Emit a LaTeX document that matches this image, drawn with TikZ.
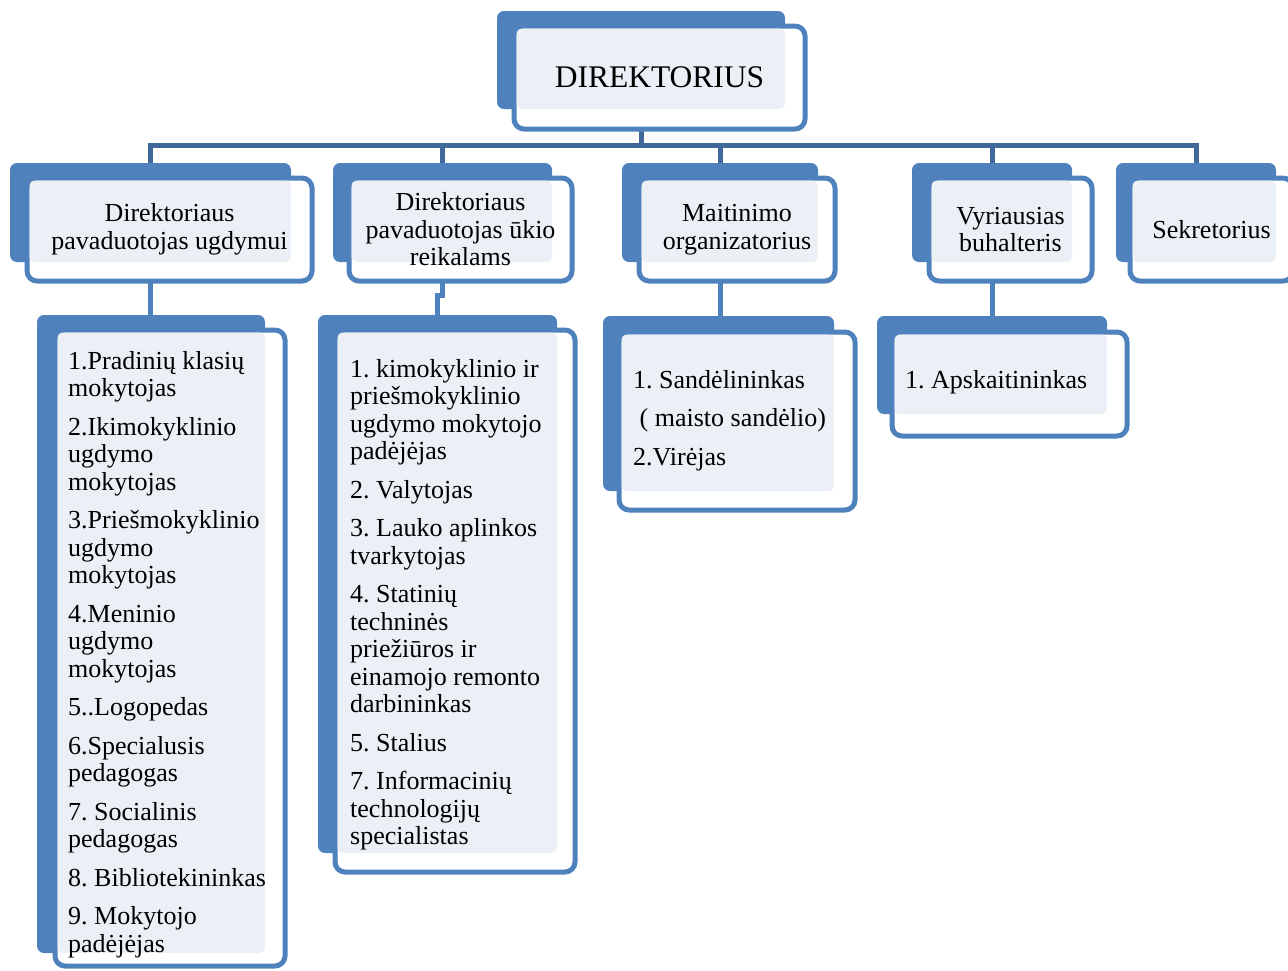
\documentclass[tikz,border=0pt]{standalone}
\usepackage{fontspec}
\setmainfont{Liberation Serif}
\frenchspacing
\usetikzlibrary{fit,calc,backgrounds}
\definecolor{boxblue}{HTML}{4F81BD}
\definecolor{busblue}{HTML}{41689B}
\definecolor{panelgray}{HTML}{EBF0F7}

\begin{document}
\begin{tikzpicture}[x=1pt, y=-1pt,
    backbox/.style = {fill=boxblue, rounded corners=7pt, inner sep=0pt, outer sep=0pt},
    framebox/.style = {draw=boxblue, line width=5pt, fill=white, rounded corners=10pt, inner sep=0pt, outer sep=0pt},
    panel/.style = {fill=panelgray, rounded corners=5pt},
    headtext/.style = {align=center, inner sep=0pt, font=\fontsize{26}{27.5}\selectfont},
    listtext/.style = {align=left, anchor=north west, inner sep=0pt, font=\fontsize{26}{27.5}\selectfont},
    link/.style = {draw=boxblue, line width=5pt},
    buslink/.style = {draw=busblue, line width=5pt}]
    \useasboundingbox (0,0) rectangle (1288,970);
    \coordinate (bus) at (0,145);

    % director
    \node[backbox, fit={(497,11) (785,109)}] (dirB) {};
    \node[framebox, fit={(514,26) (805,129)}] (dirF) {};
    \fill[panel] ($(dirF.north west)+(2.5,2.5)$) rectangle (dirB.south east);
    \node[headtext, font=\fontsize{31.5}{34}\selectfont] (dir) at (dirF.center) {DIREKTORIUS};

    % second row
    \node[backbox, fit={(10,163) (291,262)}] (ugdB) {};
    \node[framebox, fit={(27,178) (312,281)}] (ugdF) {};
    \fill[panel] ($(ugdF.north west)+(2.5,2.5)$) rectangle (ugdB.south east);
    \node[headtext] (ugd) at (ugdF.center) {Direktoriaus\\pavaduotojas ugdymui};

    \node[backbox, fit={(333,163) (552,262)}] (ukioB) {};
    \node[framebox, fit={(349,178) (572,281)}] (ukioF) {};
    \fill[panel] ($(ukioF.north west)+(2.5,2.5)$) rectangle (ukioB.south east);
    \node[headtext] (ukio) at (ukioF.center) {Direktoriaus\\pavaduotojas ūkio\\reikalams};

    \node[backbox, fit={(622,163) (818,262)}] (maitB) {};
    \node[framebox, fit={(639,178) (835,281)}] (maitF) {};
    \fill[panel] ($(maitF.north west)+(2.5,2.5)$) rectangle (maitB.south east);
    \node[headtext] (mait) at (maitF.center) {Maitinimo\\organizatorius};

    \node[backbox, fit={(912,163) (1072,262)}] (buhB) {};
    \node[framebox, fit={(929,178) (1092,281)}] (buhF) {};
    \fill[panel] ($(buhF.north west)+(2.5,2.5)$) rectangle (buhB.south east);
    \node[headtext] (buh) at (buhF.center) {Vyriausias\\buhalteris};

    \node[backbox, fit={(1116,163) (1276,262)}] (sekrB) {};
    \node[framebox, fit={(1130,178) (1293,281)}] (sekrF) {};
    \fill[panel] ($(sekrF.north west)+(2.5,2.5)$) rectangle (sekrB.south east);
    \node[headtext] (sekr) at (sekrF.center) {Sekretorius};

    % lists
    \node[backbox, fit={(37,315) (265,953)}] (ugdLB) {};
    \node[framebox, fit={(55,330) (285,966)}] (ugdLF) {};
    \fill[panel] ($(ugdLF.north west)+(2.5,2.5)$) rectangle (ugdLB.south east);
    \node[listtext] (ugdL) at (68,351) {1.Pradinių klasių\\mokytojas\\[11pt]2.Ikimokyklinio\\ugdymo\\mokytojas\\[11pt]3.Priešmokyklinio\\ugdymo\\mokytojas\\[11pt]4.Meninio\\ugdymo\\mokytojas\\[11pt]5..Logopedas\\[11pt]6.Specialusis\\pedagogas\\[11pt]7. Socialinis\\pedagogas\\[11pt]8. Bibliotekininkas\\[11pt]9. Mokytojo\\padėjėjas};

    \node[backbox, fit={(318,315) (557,853)}] (ukioLB) {};
    \node[framebox, fit={(335,330) (575,872)}] (ukioLF) {};
    \fill[panel] ($(ukioLF.north west)+(2.5,2.5)$) rectangle (ukioLB.south east);
    \node[listtext] (ukioL) at (350,359) {1. kimokyklinio ir\\priešmokyklinio\\ugdymo mokytojo\\padėjėjas\\[11pt]2. Valytojas\\[11pt]3. Lauko aplinkos\\tvarkytojas\\[11pt]4. Statinių\\techninės\\priežiūros ir\\einamojo remonto\\darbininkas\\[11pt]5. Stalius\\[11pt]7. Informacinių\\technologijų\\specialistas};

    \node[backbox, fit={(603,316) (834,491)}] (maitLB) {};
    \node[framebox, fit={(619,332) (855,510)}] (maitLF) {};
    \fill[panel] ($(maitLF.north west)+(2.5,2.5)$) rectangle (maitLB.south east);
    \node[listtext] (maitL) at (633,370) {1. Sandėlininkas\\[11pt]\hspace*{6.5pt}( maisto sandėlio)\\[11pt]2.Virėjas};

    \node[backbox, fit={(877,316) (1107,414)}] (buhLB) {};
    \node[framebox, fit={(892,332) (1127,436)}] (buhLF) {};
    \fill[panel] ($(buhLF.north west)+(2.5,2.5)$) rectangle (buhLB.south east);
    \node[listtext] (buhL) at (905,370) {1. Apskaitininkas};

    % connectors
    \begin{scope}[on background layer]
        \draw[buslink] (dirB.center) -- (dirB.center |- bus);
        \draw[buslink] (ugdB.north) -- (ugdB.north |- bus) -- (sekrB.north |- bus) -- (sekrB.north);
        \foreach \b in {ukioB, maitB, buhB}
            \draw[buslink] (\b.north) -- (\b.north |- bus);
        \draw[link] (ugdB.south) -- (ugdB.south |- ugdLB.north);
        \draw[link] (ukioB.south) -- ++(0,33) -| (ukioLB.north);
        \draw[link] (maitB.south) -- (maitB.south |- maitLB.north);
        \draw[link] (buhB.south) -- (buhB.south |- buhLB.north);
    \end{scope}
\end{tikzpicture}
\end{document}
